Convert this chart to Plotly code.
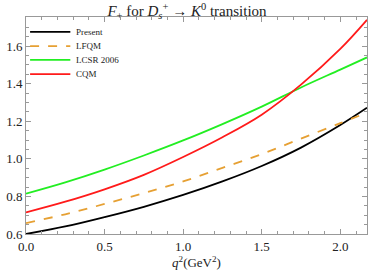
import plotly.graph_objects as go

q2 = [0.0, 0.25, 0.5, 0.75, 1.0, 1.25, 1.5, 1.75, 2.0, 2.17]
present = [0.600, 0.640, 0.690, 0.745, 0.808, 0.880, 0.962, 1.060, 1.180, 1.272]
lfqm = [0.658, 0.705, 0.760, 0.818, 0.880, 0.952, 1.025, 1.108, 1.190, 1.246]
lcsr = [0.815, 0.875, 0.943, 1.018, 1.098, 1.185, 1.278, 1.380, 1.475, 1.540]
cqm = [0.715, 0.772, 0.838, 0.915, 1.010, 1.115, 1.235, 1.395, 1.585, 1.740]

names = ["Present", "LFQM", "LCSR 2006", "CQM"]
series = [present, lfqm, lcsr, cqm]
colors = ["#000000", "#E6A033", "#22EE22", "#FF1A1A"]
dashes = ["solid", "dash", "solid", "solid"]

font = "Liberation Serif, Times New Roman, serif"

fig = go.Figure()
for n, s, c, d in zip(names, series, colors, dashes):
    fig.add_trace(go.Scatter(x=q2, y=s, name=n, mode="lines", showlegend=False,
                             line=dict(color=c, width=1.8, dash=d, shape="spline")))

# custom compact legend (paper coordinates)
leg_y = [0.931, 0.866, 0.802, 0.737]
for n, c, d, yy in zip(names, colors, dashes, leg_y):
    fig.add_shape(type="line", xref="paper", yref="paper", x0=0.012, x1=0.130, y0=yy, y1=yy,
                  line=dict(color=c, width=1.8, dash=d))
    fig.add_annotation(xref="paper", yref="paper", x=0.142, y=yy, text=n, showarrow=False,
                       xanchor="left", yanchor="middle",
                       font=dict(family=font, size=9, color="#222"))

axis_common = dict(showgrid=False, zeroline=False, showline=True, linecolor="#999999",
                   linewidth=1, mirror="allticks", ticks="inside", ticklen=5,
                   tickcolor="#999999", tickfont=dict(family=font, size=13, color="#222"))
fig.update_layout(
    width=374, height=278,
    margin=dict(l=23, r=6, t=17, b=44),
    paper_bgcolor="white", plot_bgcolor="white",
    title=dict(text="<i>F</i><sub>+</sub> for <i>D<sub>s</sub></i><sup>+</sup> → <i>K</i><sup>0</sup> transition",
               x=0.5, xanchor="center", yref="container", y=0.962, yanchor="middle",
               font=dict(family=font, size=15, color="#222")),
    xaxis=dict(range=[0, 2.17], tick0=0, dtick=0.5, tickformat=".1f",
               minor=dict(dtick=0.1, ticks="inside", ticklen=3, tickcolor="#999999"),
               title=dict(text="<i>q</i><sup>2</sup>(GeV<sup>2</sup>)", standoff=2,
                          font=dict(family=font, size=13, color="#222")),
               **axis_common),
    yaxis=dict(range=[0.6, 1.755], tick0=0.6, dtick=0.2, tickformat=".1f",
               minor=dict(dtick=0.05, ticks="inside", ticklen=3, tickcolor="#999999"),
               **axis_common),
    showlegend=False,
)
fig.write_html("out.html", config={"displayModeBar": False},
               post_script="document.body.style.margin='0';")
